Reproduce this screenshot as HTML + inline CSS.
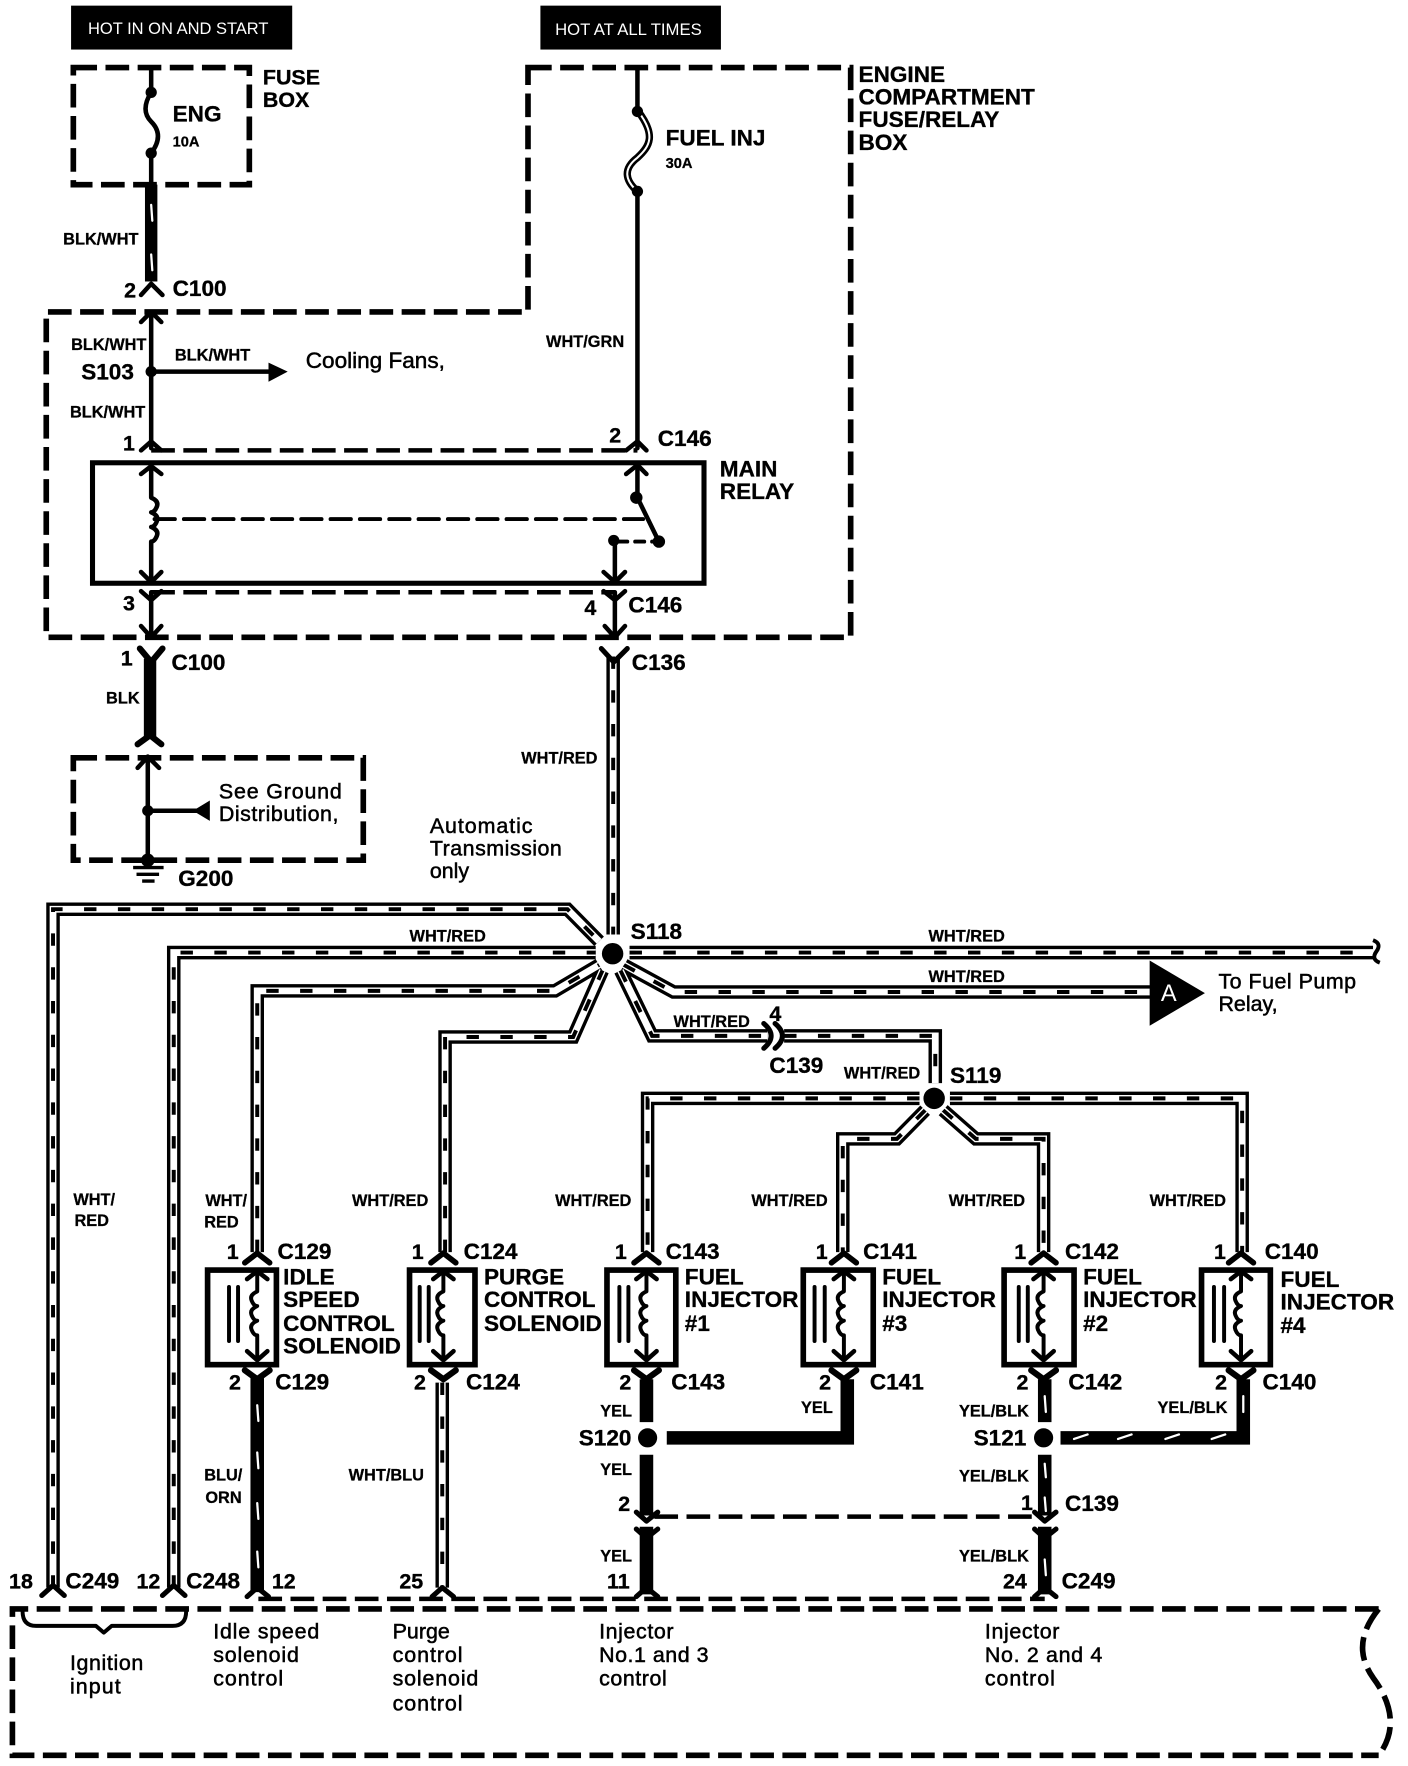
<!DOCTYPE html>
<html><head><meta charset="utf-8"><title>Fuel injection wiring diagram</title>
<style>
html,body{margin:0;padding:0;background:#fff}
svg{display:block}
text{font-family:"Liberation Sans",sans-serif;fill:#000;transform:translate(-1px,0)}
.b20{font-size:20px;font-weight:bold;stroke:#000;stroke-width:.3}
.b19{font-size:19px;font-weight:bold;stroke:#000;stroke-width:.3}
.b14{font-size:14.5px;font-weight:bold;stroke:#000;stroke-width:.25}
.b13{font-size:13px;font-weight:bold;stroke:#000;stroke-width:.25}
.r20{font-size:20px;stroke:#000;stroke-width:.45}
.r19{font-size:19px;stroke:#000;stroke-width:.45}
.w{fill:#fff;font-size:15px}
.ln{fill:none;stroke:#000;stroke-linecap:round;stroke-linejoin:round}
.d{fill:none;stroke:#000;stroke-width:5;stroke-dasharray:21 7.5;stroke-linejoin:miter}
</style></head><body>
<svg xmlns="http://www.w3.org/2000/svg" width="1408" height="1766" viewBox="0 0 1248 1565.3">
<defs>
<g id="stripes">
<path d="M543.5,583V830"/>
<path d="M47,1410V807.5H503L531,836"/>
<path d="M154,1410V846H528"/>
<path d="M228,1112V880H492L531,857"/>
<path d="M394.5,1112V921H508L534,862"/>
<path d="M558,846H1217"/>
<path d="M553,857L597,881H1020"/>
<path d="M550,862L578,920H680"/>
<path d="M695,920H829V962"/>
<path d="M815,975.5H574V1112"/>
<path d="M842,975.5H1101V1112"/>
<path d="M820,986L795,1011.5H747V1112"/>
<path d="M836,986L865,1011.5H925V1112"/>
<path d="M392,1228V1410"/>
</g>
<g id="inj" class="ln">
<path d="M-11,1121.5L0,1113L11,1121.5" stroke-width="5"/>
<path d="M-9,1136L0,1129L9,1136" stroke-width="4"/>
<path d="M0,1130V1147q-7,3-5,8t5,5q-7,3-5,8t5,5q-7,3-5,8t5,5V1207" stroke-width="3.5"/>
<path d="M-9,1200L0,1208L9,1200" stroke-width="4"/>
<path d="M-11,1217L0,1225L11,1217" stroke-width="5.5"/>
</g>
</defs>
<rect width="1248" height="1565.3" fill="#fff"/>
<g transform="scale(1,.998)">

<!-- header boxes -->
<rect x="63" y="5" width="196" height="39" fill="#000"/>
<rect x="479" y="5" width="160" height="39" fill="#000"/>
<text class="w" x="79" y="30" textLength="160" lengthAdjust="spacingAndGlyphs">HOT IN ON AND START</text>
<text class="w" x="493" y="31" textLength="130" lengthAdjust="spacingAndGlyphs">HOT AT ALL TIMES</text>

<!-- dashed enclosures -->
<rect class="d" x="65" y="60" width="156" height="104"/>
<path class="d" d="M468,60H754V566H41V277H468Z"/>
<rect class="d" x="65" y="673" width="257" height="91"/>
<path class="d" d="M1222,1429H11V1559H1222"/>
<path class="d" d="M1222,1429C1205,1450 1203,1470 1217,1490C1232,1510 1240,1535 1222,1559"/>
<path class="d" d="M134,400H565M134,526H545" style="stroke-width:4"/>
<path class="d" d="M229,1420H926" style="stroke-width:4"/>
<path class="d" d="M580,1347H920" style="stroke-width:4"/>

<!-- relay -->
<rect x="82" y="411" width="542" height="107" fill="none" stroke="#000" stroke-width="4.5"/>

<!-- thin wires -->
<g class="ln" stroke-width="4">
<path d="M134,60V82Q124,98 134,108Q146,120 134,136V164"/>
<path d="M134,277V398"/>
<path d="M134,330H238"/>
<path d="M565,60V98M565,170V398"/>
<path d="M134,414V442q7,3 5,8t-5,5q7,3 5,8t-5,5q7,3 5,8t-5,5V516"/>
<path d="M565,414V442L584,481"/>
<path d="M134,526V565M545,480V516M545,526V565"/>
<path d="M131,672V765M131,720H175"/>
<path d="M125,262L134,252L144,262M125,286L134,277L143,286M125,400L134,392L143,400M125,421L134,414L143,421M125,508L134,517L143,508M125,525L134,533L143,525M125,556L134,566L143,556"/>
<path d="M555,400L565,392L573,400M555,421L565,413L573,421M535,508L545,517L554,508M535,525L545,533L554,525M536,556L545,566L554,556"/>
<path d="M122,682L131,672L141,682"/>
</g>
<path class="ln" d="M137,461H570" stroke-width="3.5" stroke-dasharray="18 8" stroke-linecap="butt"/>
<path class="ln" d="M548,481H582" stroke-width="3.5" stroke-dasharray="8 7" stroke-linecap="butt"/>
<path d="M565,98C582,120 576,130 565,140C552,150 554,160 565,170" fill="none" stroke="#000" stroke-width="6.5"/>
<path d="M565,98C582,120 576,130 565,140C552,150 554,160 565,170" fill="none" stroke="#fff" stroke-width="1.8"/>

<!-- striped wires -->
<use href="#stripes" fill="none" stroke="#000" stroke-width="12"/>
<use href="#stripes" fill="none" stroke="#fff" stroke-width="6"/>
<use href="#stripes" fill="none" stroke="#000" stroke-width="3.5" stroke-dasharray="11 19"/>
<path d="M1217,835q8,3 3,10t3,10" fill="none" stroke="#000" stroke-width="3.5"/>
<circle cx="543" cy="847" r="14" fill="#fff"/>
<circle cx="828" cy="975.5" r="13" fill="#fff"/>

<!-- dots and arrow heads -->
<g fill="#000">
<circle cx="134" cy="82" r="5"/><circle cx="134" cy="136" r="5"/>
<circle cx="565" cy="99" r="5"/><circle cx="565" cy="170" r="5"/>
<circle cx="134" cy="330" r="5"/>
<circle cx="564" cy="442" r="5.5"/><circle cx="584" cy="481" r="5.5"/><circle cx="544" cy="480" r="5"/>
<circle cx="131" cy="720" r="5"/><circle cx="131" cy="764" r="6"/>
<circle cx="543" cy="847" r="9.5"/><circle cx="828" cy="975.5" r="9.5"/>
<circle cx="574" cy="1277" r="8.5"/><circle cx="925" cy="1277" r="8.5"/>
<path d="M238,322L255,330L238,339Z"/>
<path d="M171,720L186,711V729Z"/>
<path d="M1019,853L1068,882L1019,911Z"/>
<rect x="118" y="769" width="27" height="3"/><rect x="121" y="775" width="20" height="3"/><rect x="126" y="781" width="11" height="3"/>
</g>

<!-- C139 connector -->
<path class="ln" d="M677,909Q690,920 677,931M687,909Q700,920 687,931" stroke-width="4.5"/>

<!-- solid heavy wires -->
<g fill="none" stroke="#000">
<path d="M134,164V250" stroke-width="11"/>
<path d="M133,585V656" stroke-width="11"/>
<path d="M228,1224V1414" stroke-width="12"/>
<path d="M573,1225V1263M573,1292V1346M573,1356V1416" stroke-width="12"/>
<path d="M591,1277H751V1225" stroke-width="12"/>
<path d="M926,1225V1263M926,1292V1346M926,1356V1416" stroke-width="12"/>
<path d="M940,1277H1102V1225" stroke-width="12"/>
</g>
<g fill="none" stroke="#fff" stroke-width="2" stroke-linecap="round">
<path d="M134,182l1,14M134,226l1,14"/>
<path d="M228,1248l1,14M228,1290l1,14M228,1335l1,14M228,1378l1,14"/>
<path d="M926,1240l1,14M926,1300l1,12M926,1330l1,12M926,1385l1,14"/>
<path d="M952,1278l12,-4M991,1278l12,-4M1033,1278l12,-4M1074,1278l12,-4M1102,1240v14"/>
</g>
<g class="ln">
<path d="M124,576L134,588L144,576" stroke-width="5.5"/>
<path d="M122,661L133,653L143,661" stroke-width="5.5"/>
<path d="M533,576L544,588L556,576" stroke-width="4.5"/>
<path d="M37,1417L47,1408L57,1417M144,1417L154,1408L164,1417" stroke-width="4.5"/>
<path d="M219,1418L228,1410L238,1418M383,1418L392,1410L402,1418M564,1418L573,1410L583,1418M917,1418L926,1410L936,1418" stroke-width="4.5"/>
<path d="M564,1343L573,1351L583,1343" stroke-width="4.5"/>
<path d="M564,1358L573,1366L583,1358" stroke-width="4.5"/>
<path d="M917,1343L926,1351L936,1343" stroke-width="4.5"/>
<path d="M917,1358L926,1366L936,1358" stroke-width="4.5"/>
<path d="M20,1431Q20,1444 32,1444H85L92,1450L99,1444H153Q165,1444 165,1431" stroke-width="3.5"/>
</g>

<!-- injectors -->
<g fill="none" stroke="#000" stroke-width="5">
<rect x="184" y="1128" width="61" height="84"/>
<rect x="363" y="1128" width="58" height="84"/>
<rect x="538" y="1128" width="61" height="84"/>
<rect x="712" y="1128" width="62" height="84"/>
<rect x="890" y="1128" width="62" height="84"/>
<rect x="1065" y="1128" width="61" height="84"/>
</g>
<use href="#inj" x="228"/><use href="#inj" x="393"/><use href="#inj" x="573"/>
<use href="#inj" x="748"/><use href="#inj" x="925"/><use href="#inj" x="1100"/>
<g class="ln" stroke-width="3.5" stroke-linecap="butt">
<path d="M203,1143V1191M211,1143V1191"/>
<path d="M372,1143V1191M380,1143V1191"/>
<path d="M549,1143V1191M557,1143V1191"/>
<path d="M722,1143V1191M731,1143V1191"/>
<path d="M903,1143V1191M911,1143V1191"/>
<path d="M1076,1143V1191M1085,1143V1191"/>
</g>

<!-- labels -->
<text class="b19" x="234" y="75">FUSE</text><text class="b19" x="234" y="95">BOX</text>
<text class="b20" x="154" y="108">ENG</text><text class="b13" x="154" y="130">10A</text>
<text class="b14" x="57" y="217">BLK/WHT</text>
<text class="b19" x="111" y="264">2</text><text class="b20" x="154" y="263">C100</text>
<text class="b20" x="591" y="129">FUEL INJ</text><text class="b13" x="591" y="149">30A</text>
<text class="b20" x="762" y="73">ENGINE</text><text class="b20" x="762" y="93">COMPARTMENT</text><text class="b20" x="762" y="113">FUSE/RELAY</text><text class="b20" x="762" y="133">BOX</text>
<text class="b14" x="64" y="311">BLK/WHT</text><text class="b20" x="73" y="337">S103</text>
<text class="b14" x="156" y="320">BLK/WHT</text><text class="r20" x="272" y="327">Cooling Fans,</text>
<text class="b14" x="485" y="308">WHT/GRN</text><text class="b14" x="63" y="371">BLK/WHT</text>
<text class="b19" x="110" y="400">1</text><text class="b19" x="541" y="393">2</text><text class="b20" x="584" y="396">C146</text>
<text class="b20" x="639" y="423">MAIN</text><text class="b20" x="639" y="443">RELAY</text>
<text class="b19" x="110" y="542">3</text><text class="b19" x="519" y="546">4</text><text class="b20" x="558" y="544">C146</text>
<text class="b19" x="108" y="591">1</text><text class="b20" x="153" y="595">C100</text><text class="b20" x="561" y="595">C136</text>
<text class="b14" x="95" y="625">BLK</text>
<text class="r19" x="195" y="709" textLength="109">See Ground</text><text class="r19" x="195" y="729" textLength="106">Distribution,</text><text class="b20" x="159" y="787">G200</text>
<text class="b14" x="463" y="678">WHT/RED</text>
<text class="r19" x="382" y="740" textLength="91">Automatic</text><text class="r19" x="382" y="760" textLength="117">Transmission</text><text class="r19" x="382" y="780">only</text>
<text class="b20" x="560" y="834">S118</text>
<text class="b14" x="364" y="836">WHT/RED</text><text class="b14" x="824" y="836">WHT/RED</text><text class="b14" x="824" y="872">WHT/RED</text>
<text class="r19" x="1081" y="878" textLength="122">To Fuel Pump</text><text class="r19" x="1081" y="898">Relay,</text>
<text x="1030" y="889" style="fill:#fff;font-size:21px">A</text>
<text class="b14" x="598" y="912">WHT/RED</text><text class="b19" x="683" y="907">4</text><text class="b20" x="683" y="953">C139</text>
<text class="b14" x="749" y="958">WHT/RED</text><text class="b20" x="843" y="962">S119</text>
<text class="b14" x="66" y="1070">WHT/</text><text class="b14" x="67" y="1089">RED</text>
<text class="b14" x="183" y="1071">WHT/</text><text class="b14" x="182" y="1090">RED</text>
<text class="b14" x="313" y="1071">WHT/RED</text><text class="b14" x="493" y="1071">WHT/RED</text><text class="b14" x="667" y="1071">WHT/RED</text><text class="b14" x="842" y="1071">WHT/RED</text><text class="b14" x="1020" y="1071">WHT/RED</text>
<g class="b19">
<text x="202" y="1118">1</text><text x="366" y="1118">1</text><text x="546" y="1118">1</text><text x="724" y="1118">1</text><text x="900" y="1118">1</text><text x="1077" y="1118">1</text>
<text x="204" y="1234">2</text><text x="368" y="1234">2</text><text x="550" y="1234">2</text><text x="727" y="1234">2</text><text x="902" y="1234">2</text><text x="1078" y="1234">2</text>
<text x="549" y="1342">2</text><text x="906" y="1341">1</text>
<text x="9" y="1411">18</text><text x="122" y="1411">12</text><text x="242" y="1411">12</text><text x="355" y="1411">25</text><text x="539" y="1411">11</text><text x="890" y="1411">24</text>
</g>
<g class="b20">
<text x="247" y="1118">C129</text><text x="412" y="1118">C124</text><text x="591" y="1118">C143</text><text x="766" y="1118">C141</text><text x="945" y="1118">C142</text><text x="1122" y="1118">C140</text>
<text x="245" y="1234">C129</text><text x="414" y="1234">C124</text><text x="596" y="1234">C143</text><text x="772" y="1234">C141</text><text x="948" y="1234">C142</text><text x="1120" y="1234">C140</text>
<text x="252" y="1141">IDLE</text><text x="252" y="1161">SPEED</text><text x="252" y="1182">CONTROL</text><text x="252" y="1202">SOLENOID</text>
<text x="430" y="1141">PURGE</text><text x="430" y="1161">CONTROL</text><text x="430" y="1182">SOLENOID</text>
<text x="608" y="1141">FUEL</text><text x="608" y="1161">INJECTOR</text><text x="608" y="1182">#1</text>
<text x="783" y="1141">FUEL</text><text x="783" y="1161">INJECTOR</text><text x="783" y="1182">#3</text>
<text x="961" y="1141">FUEL</text><text x="961" y="1161">INJECTOR</text><text x="961" y="1182">#2</text>
<text x="1136" y="1143">FUEL</text><text x="1136" y="1163">INJECTOR</text><text x="1136" y="1184">#4</text>
<text x="514" y="1284">S120</text><text x="864" y="1284">S121</text>
<text x="945" y="1342">C139</text>
<text x="59" y="1411">C249</text><text x="166" y="1411">C248</text><text x="942" y="1411">C249</text>
</g>
<text class="b14" x="533" y="1258">YEL</text><text class="b14" x="711" y="1255">YEL</text><text class="b14" x="851" y="1258">YEL/BLK</text><text class="b14" x="1027" y="1255">YEL/BLK</text>
<text class="b14" x="182" y="1315">BLU/</text><text class="b14" x="183" y="1335">ORN</text><text class="b14" x="310" y="1315">WHT/BLU</text>
<text class="b14" x="533" y="1310">YEL</text><text class="b14" x="851" y="1316">YEL/BLK</text>
<text class="b14" x="533" y="1387">YEL</text><text class="b14" x="851" y="1387">YEL/BLK</text>
<text class="r19" x="190" y="1455" textLength="94">Idle speed</text><text class="r19" x="190" y="1476" textLength="76">solenoid</text><text class="r19" x="190" y="1497" textLength="62">control</text>
<text class="r19" x="349" y="1455">Purge</text><text class="r19" x="349" y="1476" textLength="62">control</text><text class="r19" x="349" y="1497" textLength="76">solenoid</text><text class="r19" x="349" y="1519" textLength="62">control</text>
<text class="r19" x="532" y="1455" textLength="66">Injector</text><text class="r19" x="532" y="1476" textLength="97">No.1 and 3</text><text class="r19" x="532" y="1497" textLength="60">control</text>
<text class="r19" x="874" y="1455" textLength="66">Injector</text><text class="r19" x="874" y="1476" textLength="104">No. 2 and 4</text><text class="r19" x="874" y="1497" textLength="62">control</text>
<text class="r19" x="63" y="1483" textLength="65">Ignition</text><text class="r19" x="63" y="1504" textLength="45">input</text>
</g>
</svg>
</body></html>
